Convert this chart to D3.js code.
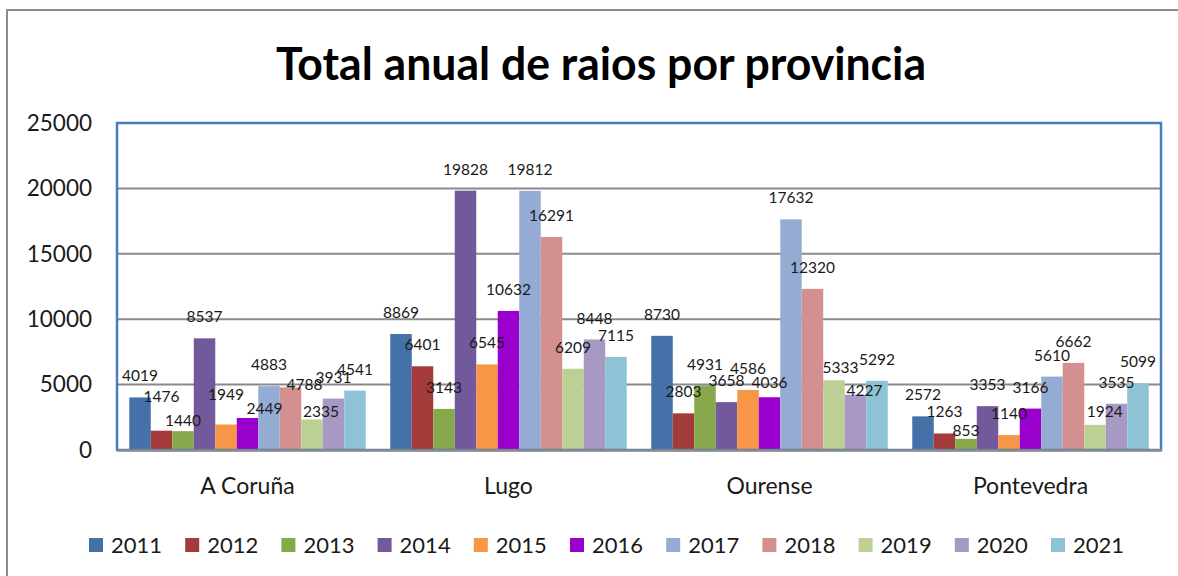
<!DOCTYPE html>
<html>
<head>
<meta charset="utf-8">
<script src="https://cdn.jsdelivr.net/npm/d3@7"></script>
<style>
  body { margin: 0; background: #fff; }
  text { font-family: Lato, Carlito, Calibri, sans-serif; fill: #1a1a1a; }
</style>
</head>
<body>
<script>
var provinces = ['A Coruña', 'Lugo', 'Ourense', 'Pontevedra'];
var years = ['2011', '2012', '2013', '2014', '2015', '2016', '2017', '2018', '2019', '2020', '2021'];

var coruna     = [4019, 1476, 1440, 8537, 1949, 2449, 4883, 4788, 2335, 3931, 4541];
var lugo       = [8869, 6401, 3143, 19828, 6545, 10632, 19812, 16291, 6209, 8448, 7115];
var ourense    = [8730, 2803, 4931, 3658, 4586, 4036, 17632, 12320, 5333, 4227, 5292];
var pontevedra = [2572, 1263, 853, 3353, 1140, 3166, 5610, 6662, 1924, 3535, 5099];

var yTicks = [0, 5000, 10000, 15000, 20000, 25000];

var seriesByProvince = [coruna, lugo, ourense, pontevedra];

var colors = ['#4472a8', '#a33b3b', '#88a84c', '#72599b', '#f79646', '#9900cc',
              '#94acd4', '#d49090', '#bcd096', '#a898c4', '#8ec3d6'];

// labels the original chart had dragged off their default spot
var labelNudge = {
    'A Coruña 2012': [0, -13],
    'A Coruña 2013': [0, 10.5],
    'A Coruña 2015': [0, -8.5],
    'A Coruña 2016': [17, 12.3],
    'A Coruña 2018': [14, 18.6],
    'A Coruña 2019': [9, 13.2],
    'Ourense 2016': [0, 7],
    'Ourense 2019': [6.5, 9],
    'Ourense 2020': [9, 17.3],
    'Pontevedra 2013': [0, 13],
    'Pontevedra 2019': [9.7, 8]
};

var width = 1178, height = 576;
var plot = { left: 117, right: 1161, top: 123, bottom: 450 };

var svg = d3.select('body').append('svg')
    .attr('width', width)
    .attr('height', height);

// outer chart frame (only top/left visible in the crop)
svg.append('path')
    .attr('d', `M7,${height} V10 H${width}`)
    .attr('fill', 'none')
    .attr('stroke', '#8c8c8c')
    .attr('stroke-width', 2);

svg.append('text')
    .attr('x', 601)
    .attr('y', 80)
    .attr('text-anchor', 'middle')
    .attr('textLength', 650)
    .attr('lengthAdjust', 'spacingAndGlyphs')
    .style('font-size', '46px')
    .style('font-weight', 'bold')
    .style('fill', '#000')
    .text('Total anual de raios por provincia');

var x0 = d3.scaleBand()
    .domain(provinces)
    .range([plot.left, plot.right])
    .paddingInner(0.094)
    .paddingOuter(0.047);

var x1 = d3.scaleBand()
    .domain(years)
    .range([0, x0.bandwidth()]);

var y = d3.scaleLinear()
    .domain([0, 25000])
    .range([plot.bottom, plot.top]);

var color = d3.scaleOrdinal().domain(years).range(colors);

// gridlines
svg.append('g')
    .selectAll('line')
    .data(yTicks.filter(d => d > 0 && d < 25000))
    .join('line')
    .attr('x1', plot.left).attr('x2', plot.right)
    .attr('y1', d => y(d)).attr('y2', d => y(d))
    .attr('stroke', '#8a8a8a')
    .attr('stroke-width', 2);

// y axis labels
var yAxis = svg.append('g')
    .attr('transform', `translate(${plot.left},0)`)
    .call(d3.axisLeft(y).tickValues(yTicks).tickSize(0).tickPadding(25).tickFormat(d3.format('d')));
yAxis.select('.domain').remove();
yAxis.selectAll('text')
    .style('font-size', '22.5px')
    .style('font-family', 'Lato, sans-serif')
    .attr('fill', '#1a1a1a');

var rows = [];
provinces.forEach((p, i) => {
    years.forEach((yr, j) => rows.push({ province: p, year: yr, value: seriesByProvince[i][j] }));
});

var groups = svg.append('g')
    .selectAll('g')
    .data(provinces)
    .join('g')
    .attr('transform', d => `translate(${x0(d)},0)`);

groups.selectAll('rect')
    .data(p => rows.filter(r => r.province === p))
    .join('rect')
    .attr('x', d => x1(d.year))
    .attr('y', d => y(d.value))
    .attr('width', x1.bandwidth())
    .attr('height', d => y(0) - y(d.value))
    .attr('fill', d => color(d.year));

// plot frame
svg.append('rect')
    .attr('x', plot.left).attr('y', plot.top)
    .attr('width', plot.right - plot.left)
    .attr('height', plot.bottom - plot.top)
    .attr('fill', 'none')
    .attr('stroke', '#4a7ebb')
    .attr('stroke-width', 2.5);

// category axis
var xAxis = svg.append('g')
    .attr('transform', `translate(0,${plot.bottom})`)
    .call(d3.axisBottom(x0).tickSize(0).tickPadding(28));
xAxis.select('.domain')
    .attr('stroke', '#8a8a8a')
    .attr('stroke-width', 2.5);
xAxis.selectAll('text')
    .style('font-size', '23px')
    .style('font-family', 'Lato, sans-serif')
    .attr('fill', '#1a1a1a');

// data labels
groups.selectAll('text.val')
    .data(p => rows.filter(r => r.province === p))
    .join('text')
    .attr('class', 'val')
    .attr('text-anchor', 'middle')
    .attr('x', d => x1(d.year) + x1.bandwidth() / 2 + (labelNudge[d.province + ' ' + d.year] || [0, 0])[0])
    .attr('y', d => y(d.value) - 16 + (labelNudge[d.province + ' ' + d.year] || [0, 0])[1])
    .style('font-size', '15.5px')
    .text(d => d.value);

// legend
var legend = svg.append('g')
    .selectAll('g')
    .data(years)
    .join('g')
    .attr('transform', (d, i) => `translate(${89 + i * 96.2},545)`);

legend.append('rect')
    .attr('x', 0).attr('y', -7)
    .attr('width', 14).attr('height', 14)
    .attr('fill', d => color(d));

legend.append('text')
    .attr('x', 22)
    .attr('y', 8)
    .style('font-size', '22px')
    .text(d => d);
</script>
</body>
</html>
